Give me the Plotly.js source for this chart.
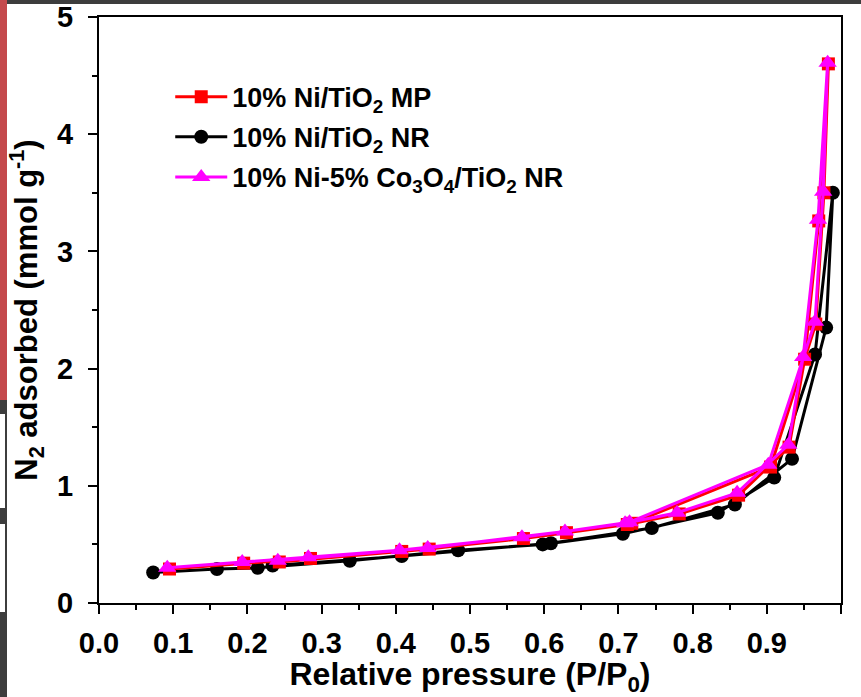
<!DOCTYPE html>
<html>
<head>
<meta charset="utf-8">
<script src="https://cdn.plot.ly/plotly-3.0.1.min.js"></script>
<style>
  html, body { margin: 0; padding: 0; background: #ffffff; }
  #wrap { position: relative; width: 861px; height: 697px; overflow: hidden; }
  #chart { position: absolute; left: 0; top: 0; width: 861px; height: 697px; }
  .strip { position: absolute; z-index: 5; }
</style>
</head>
<body>
<div id="wrap">
  <div id="chart"></div>
  <!-- window frame strips around the figure -->
  <div class="strip" style="left:0;top:0;width:861px;height:4px;background:#3d3d3d;"></div>
  <div class="strip" style="left:0;top:0;width:7px;height:400px;background:#c4494c;"></div>
  <div class="strip" style="left:0;top:400px;width:7px;height:14px;background:#3d3d3d;"></div>
  <div class="strip" style="left:5px;top:414px;width:2px;height:94px;background:#3d3d3d;"></div>
  <div class="strip" style="left:0;top:508px;width:7px;height:16px;background:#3d3d3d;"></div>
  <div class="strip" style="left:5px;top:524px;width:2px;height:88px;background:#3d3d3d;"></div>
  <div class="strip" style="left:0;top:612px;width:7px;height:85px;background:#3d3d3d;"></div>
</div>
<script>
// 10% Ni/TiO2 MP — adsorption and desorption branches (P/P0, mmol/g)
const mpAdsP = [0.095, 0.195, 0.285, 0.408, 0.572, 0.712, 0.782, 0.862, 0.930, 0.951, 0.970, 0.983];
const mpAdsV = [0.29, 0.34, 0.38, 0.44, 0.55, 0.67, 0.76, 0.92, 1.33, 2.08, 3.26, 4.60];
const mpDesP = [0.977, 0.966, 0.905, 0.718, 0.630, 0.445, 0.243];
const mpDesV = [3.50, 2.38, 1.16, 0.68, 0.60, 0.46, 0.35];

// 10% Ni/TiO2 NR
const nrAdsP = [0.073, 0.159, 0.214, 0.338, 0.484, 0.598, 0.706, 0.834, 0.910, 0.965, 0.989];
const nrAdsV = [0.26, 0.29, 0.30, 0.36, 0.45, 0.50, 0.59, 0.77, 1.07, 2.12, 3.50];
const nrDesP = [0.980, 0.934, 0.857, 0.745, 0.609, 0.408, 0.234];
const nrDesV = [2.35, 1.23, 0.84, 0.64, 0.51, 0.40, 0.32];

// 10% Ni-5% Co3O4/TiO2 NR
const coAdsP = [0.092, 0.193, 0.282, 0.405, 0.570, 0.709, 0.779, 0.860, 0.929, 0.949, 0.969, 0.982];
const coAdsV = [0.30, 0.35, 0.39, 0.45, 0.56, 0.68, 0.77, 0.94, 1.35, 2.10, 3.27, 4.61];
const coDesP = [0.976, 0.965, 0.902, 0.715, 0.628, 0.443, 0.241];
const coDesV = [3.51, 2.40, 1.18, 0.69, 0.61, 0.47, 0.36];

const seriesNames = [
  '10% Ni/TiO<sub>2</sub> MP',
  '10% Ni/TiO<sub>2</sub> NR',
  '10% Ni-5% Co<sub>3</sub>O<sub>4</sub>/TiO<sub>2</sub> NR'
];
const xTitle = 'Relative pressure (P/P<sub>0</sub>)';
const yTitle = 'N<sub>2</sub> adsorbed (mmol g<sup>-1</sup>)';

const FONT = 'Liberation Sans, Arial, Helvetica, sans-serif';

function branch(adsP, adsV, desP, desV) {
  return { x: adsP.concat(desP), y: adsV.concat(desV) };
}

const mp = branch(mpAdsP, mpAdsV, mpDesP, mpDesV);
const nr = branch(nrAdsP, nrAdsV, nrDesP, nrDesV);
const co = branch(coAdsP, coAdsV, coDesP, coDesV);

const traces = [
  {
    x: nr.x, y: nr.y, name: seriesNames[1], legendrank: 2, legendgroup: 'b',
    mode: 'lines+markers', type: 'scatter', cliponaxis: false,
    line: { color: '#000000', width: 3 },
    marker: { symbol: 'circle', size: 14, color: '#000000' }
  },
  {
    x: mp.x, y: mp.y, name: seriesNames[0], legendrank: 1, legendgroup: 'a',
    mode: 'lines+markers', type: 'scatter', cliponaxis: false,
    line: { color: '#ff0000', width: 3 },
    marker: { symbol: 'square', size: 13, color: '#ff0000' }
  },
  {
    x: co.x, y: co.y, name: seriesNames[2], legendrank: 3, legendgroup: 'c',
    mode: 'lines+markers', type: 'scatter', cliponaxis: false,
    line: { color: '#ff00ff', width: 3 },
    marker: { symbol: 'triangle-up', size: 16, color: '#ff00ff' }
  }
];

const axisCommon = {
  showgrid: false,
  zeroline: false,
  showline: true,
  linecolor: '#000000',
  linewidth: 2,
  mirror: true,
  ticks: 'outside',
  ticklen: 9,
  tickwidth: 2,
  tickcolor: '#000000',
  tickfont: { family: FONT, size: 29, color: '#000000', weight: 'bold' }
};

const layout = {
  width: 861,
  height: 697,
  margin: { l: 99, r: 20, t: 17, b: 94, pad: 0 },
  paper_bgcolor: '#ffffff',
  plot_bgcolor: '#ffffff',
  showlegend: true,
  legend: {
    x: 0.096, y: 0.905, xanchor: 'left', yanchor: 'top',
    bgcolor: 'rgba(0,0,0,0)',
    font: { family: FONT, size: 27, color: '#000000', weight: 'bold' },
    tracegroupgap: 2,
    itemwidth: 52
  },
  xaxis: Object.assign({}, axisCommon, {
    range: [0, 1],
    dtick: 0.1,
    tick0: 0,
    tickformat: '.1f',
    ticklabelstandoff: 4,
    minor: { dtick: 0.05, ticks: 'outside', ticklen: 5, tickwidth: 2, tickcolor: '#000000' },
    title: { text: xTitle, font: { family: FONT, size: 32, color: '#000000', weight: 'bold' }, standoff: 8 }
  }),
  yaxis: Object.assign({}, axisCommon, {
    range: [0, 5],
    dtick: 1,
    tick0: 0,
    ticklabelstandoff: 9,
    minor: { dtick: 0.5, ticks: 'outside', ticklen: 5, tickwidth: 2, tickcolor: '#000000' },
    title: { text: yTitle, font: { family: FONT, size: 31, color: '#000000', weight: 'bold' }, standoff: 10 }
  })
};

Plotly.newPlot('chart', traces, layout, { displayModeBar: false, staticPlot: true });
</script>
</body>
</html>
